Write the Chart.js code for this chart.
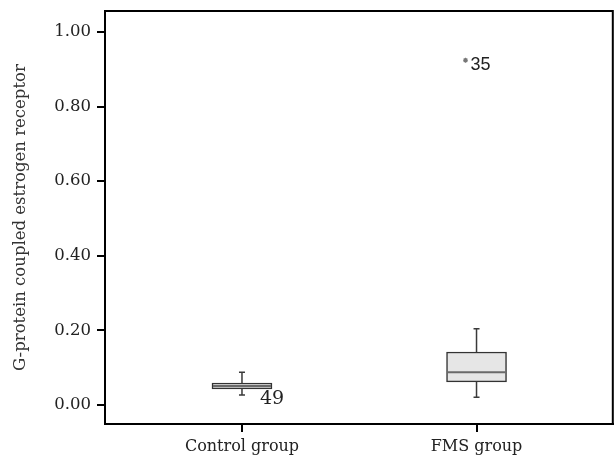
<!DOCTYPE html>
<html>
<head>
<meta charset="utf-8">
<script src="https://cdn.jsdelivr.net/npm/chart.js@4.4.0/dist/chart.umd.min.js"></script>
<style>
  html, body { margin: 0; padding: 0; background: #fff; overflow: hidden; }
  #wrap { width: 618px; height: 459px; position: relative; }
  canvas { display: block; }
</style>
</head>
<body>
<div id="wrap"><canvas id="boxChart"></canvas></div>
<script>
// box plot data
const groups = ['Control group', 'FMS group'];
const whiskerLow = [0.027, 0.021];
const q1 = [0.043, 0.062];
const median = [0.051, 0.088];
const q3 = [0.059, 0.142];
const whiskerHigh = [0.088, 0.204];

// labelled extreme cases
const outlierGroup = [1, 0];
const outlierValue = [0.912, 0.016];
const outlierCase = ['35', '49'];
const outlierMarker = [true, false];

const yTicks = [0, 0.2, 0.4, 0.6, 0.8, 1.0];

const boxPlugin = {
    id: 'boxParts',
    afterDatasetsDraw(chart) {
        const ctx = chart.ctx;
        const xs = chart.scales.x;
        const ys = chart.scales.y;
        ctx.save();

        // whiskers + caps
        groups.forEach((g, i) => {
            const cx = xs.getPixelForValue(i);
            const yLow = ys.getPixelForValue(whiskerLow[i]);
            const yHigh = ys.getPixelForValue(whiskerHigh[i]);
            const yQ1 = ys.getPixelForValue(q1[i]);
            const yQ3 = ys.getPixelForValue(q3[i]);
            ctx.strokeStyle = '#3a3a3a';
            ctx.lineWidth = 1.5;
            ctx.beginPath();
            ctx.moveTo(cx, yQ3); ctx.lineTo(cx, yHigh);
            ctx.moveTo(cx, yQ1); ctx.lineTo(cx, yLow);
            ctx.moveTo(cx - 3, yHigh); ctx.lineTo(cx + 3, yHigh);
            ctx.moveTo(cx - 3, yLow); ctx.lineTo(cx + 3, yLow);
            ctx.stroke();

            // median
            const yMed = ys.getPixelForValue(median[i]);
            ctx.strokeStyle = '#6a6a6a';
            ctx.lineWidth = 2;
            ctx.beginPath();
            ctx.moveTo(cx - 29, yMed); ctx.lineTo(cx + 29, yMed);
            ctx.stroke();
        });

        // case labels
        outlierCase.forEach((label, k) => {
            const cx = xs.getPixelForValue(outlierGroup[k]);
            const cy = ys.getPixelForValue(outlierValue[k]);
            ctx.fillStyle = '#222';
            ctx.textBaseline = 'middle';
            ctx.textAlign = 'left';
            if (outlierMarker[k]) {
                ctx.font = '18px "Liberation Sans"';
                ctx.fillText(label, cx - 6, cy);
            } else {
                ctx.font = '19px "DejaVu Serif"';
                ctx.fillText(label, cx + 18, cy);
            }
        });

        // frame around plot area
        const a = chart.chartArea;
        ctx.strokeStyle = '#000';
        ctx.lineWidth = 2;
        ctx.strokeRect(a.left, a.top, a.right - a.left, a.bottom - a.top);
        ctx.restore();
    }
};

const boxData = groups.map((g, i) => ({ x: i, y: [q1[i], q3[i]] }));
const starData = outlierValue
    .map((v, k) => ({ x: outlierGroup[k], y: v, show: outlierMarker[k] }))
    .filter(p => p.show);

new Chart(document.getElementById('boxChart'), {
    type: 'bar',
    data: {
        datasets: [{
            type: 'bar',
            data: boxData,
            backgroundColor: '#e6e6e6',
            borderColor: '#333',
            borderWidth: 1.5,
            borderSkipped: false,
            barThickness: 60
        }, {
            type: 'scatter',
            data: starData.map(p => ({ x: p.x - 0.047, y: p.y + 0.012 })),
            pointStyle: 'star',
            radius: 2.5,
            borderColor: '#777',
            borderWidth: 1.2,
            backgroundColor: '#777'
        }]
    },
    options: {
        responsive: true,
        maintainAspectRatio: false,
        animation: false,
        layout: { padding: { top: 11, right: 1, left: 0, bottom: 0 } },
        plugins: {
            legend: { display: false },
            tooltip: { enabled: false }
        },
        scales: {
            x: {
                type: 'linear',
                offset: false,
                min: -0.584,
                max: 1.581,
                afterBuildTicks: (axis) => { axis.ticks = groups.map((g, i) => ({ value: i })); },
                afterFit: (axis) => {
                    axis.height = 35;
                    axis.paddingLeft = 0;
                    axis.paddingRight = 0;
                    axis.paddingTop = 0;
                    axis.paddingBottom = 0;
                },
                grid: { offset: false, drawOnChartArea: false, drawTicks: true, tickLength: 8, color: '#000', lineWidth: 2 },
                border: { display: true, color: '#000', width: 2 },
                ticks: {
                    color: '#222',
                    padding: 5,
                    maxRotation: 0,
                    font: { family: 'DejaVu Serif', size: 16 },
                    callback: (v) => groups[v]
                }
            },
            y: {
                type: 'linear',
                min: -0.051,
                max: 1.056,
                afterBuildTicks: (axis) => { axis.ticks = yTicks.map(v => ({ value: v })); },
                afterFit: (axis) => {
                    axis.width = 105;
                    axis.paddingTop = 0;
                    axis.paddingBottom = 0;
                    axis.paddingLeft = 0;
                    axis.paddingRight = 0;
                },
                grid: { drawOnChartArea: false, drawTicks: true, tickLength: 8, color: '#000', lineWidth: 2 },
                border: { display: true, color: '#000', width: 2 },
                ticks: {
                    color: '#222',
                    padding: 6,
                    font: { family: 'DejaVu Serif', size: 16.5 },
                    callback: (v) => v.toFixed(2)
                },
                title: {
                    display: true,
                    text: 'G-protein coupled estrogen receptor',
                    color: '#333',
                    padding: { top: 11, bottom: 4 },
                    font: { family: 'DejaVu Serif', size: 16.5 }
                }
            }
        }
    },
    plugins: [boxPlugin]
});
</script>
</body>
</html>
